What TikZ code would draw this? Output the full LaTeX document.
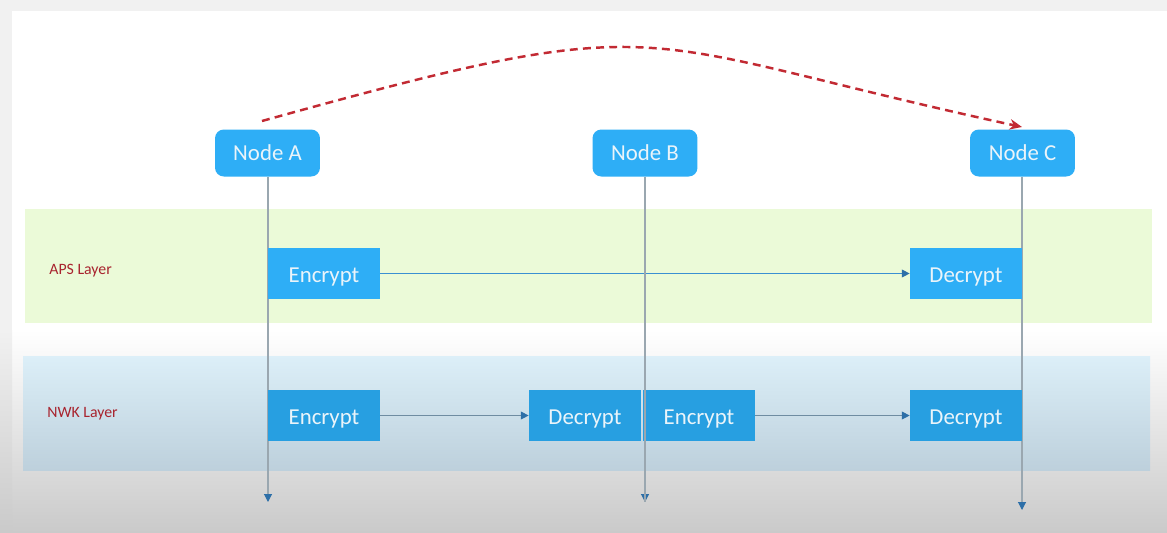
\documentclass[tikz,border=0pt]{standalone}
\usepackage{fontspec}
\setmainfont{Carlito}
\usetikzlibrary{arrows.meta}
\definecolor{nodeblue}{HTML}{2EAEF6}
\definecolor{nwkblue}{HTML}{279FE1}
\definecolor{boxtext}{HTML}{EAF4FA}
\definecolor{apsgreen}{HTML}{EBFAD8}
\definecolor{nwktop}{HTML}{DCEFF8}
\definecolor{nwkbot}{HTML}{BDD0DC}
\definecolor{labelred}{HTML}{A8232E}
\definecolor{arcred}{HTML}{C22A33}
\definecolor{lifeline}{HTML}{9AA7B0}
\definecolor{tipblue}{HTML}{2D6FA8}
\definecolor{msgblue}{HTML}{3A8FD2}
\definecolor{msggray}{HTML}{6F8CA2}
\definecolor{outergray}{HTML}{F1F1F1}
\definecolor{bottomgray}{HTML}{CACACA}
\tikzset{
  peer/.style={fill=nodeblue, rounded corners=5pt, text=boxtext, font=\fontsize{13}{15}\selectfont, minimum width=2.1cm, minimum height=0.94cm, inner sep=0pt},
  cryptbox/.style={fill=nodeblue, text=boxtext, font=\fontsize{13}{15}\selectfont, minimum width=2.24cm, minimum height=1.02cm, inner sep=0pt, text height=10.4pt, text depth=0pt},
  nwkbox/.style={cryptbox, fill=nwkblue},
  layerlabel/.style={text=labelred, font=\fontsize{9}{11}\selectfont, anchor=west, inner sep=0pt},
  lifearrow/.style={draw=lifeline, line width=0.6pt, -{Triangle[width=4.5pt,length=4.5pt,fill=tipblue,color=tipblue]}},
  msgarrow/.style={draw=msgblue, line width=0.6pt, -{Triangle[width=4.5pt,length=4.5pt,fill=tipblue,color=tipblue]}},
  nwkarrow/.style={msgarrow, draw=msggray},
}
\begin{document}
\begin{tikzpicture}[x=0.02cm, y=-0.02cm]
\useasboundingbox (0,0) rectangle (1167,532);
% background
\fill[outergray] (0,0) rectangle (1167,532);
\fill[white] (12,11) rectangle (1167,532);
\shade[top color=white, bottom color=bottomgray] (12,330) rectangle (1167,532);
\shade[top color=outergray, bottom color=bottomgray] (0,330) rectangle (12,532);
% bands
\fill[apsgreen] (25,209) rectangle (1152,323);
\shade[top color=nwktop, bottom color=nwkbot] (23,356) rectangle (1150,470);
\node[layerlabel] (apslbl) at (49,271) {APS Layer};
\node[layerlabel] (nwklbl) at (47,414) {NWK Layer};
% peers
\node[peer] (A) at (267.5,153) {Node A};
\node[peer] (B) at (645,153) {Node B};
\node[peer] (C) at (1022.5,153) {Node C};
\coordinate (Aend) at (268,502);
\coordinate (Bend) at (645,502);
\coordinate (Cend) at (1022,510);
\draw[lifearrow] (A.south -| Aend) -- (Aend);
\draw[lifearrow] (B.south -| Bend) -- (Bend);
\draw[lifearrow] (C.south -| Cend) -- (Cend);
% APS boxes
\node[cryptbox] (apsenc) at (324,273.5) {Encrypt};
\node[cryptbox] (apsdec) at (966,273.5) {Decrypt};
\draw[msgarrow] (apsenc) -- (apsdec);
% NWK boxes
\node[nwkbox] (nenc1) at (324,415.5) {Encrypt};
\node[nwkbox] (ndec1) at (585,415.5) {Decrypt};
\node[nwkbox] (nenc2) at (699,415.5) {Encrypt};
\node[nwkbox] (ndec2) at (966,415.5) {Decrypt};
\draw[lifeline, line width=0.6pt] (B.south -| Bend) -- (Bend);
\draw[nwkarrow] (nenc1) -- (ndec1);
\draw[nwkarrow] (nenc2) -- (ndec2);
% dashed arc
\coordinate (arcstart) at (262,121);
\coordinate (arcend) at (1022,127);
\draw[arcred, line width=1.4pt, dash pattern=on 4.5pt off 3pt, -{Stealth[length=7pt,width=6pt]}]
  (arcstart) .. controls (680,5) and (620,40) .. (arcend);
\end{tikzpicture}
\end{document}
